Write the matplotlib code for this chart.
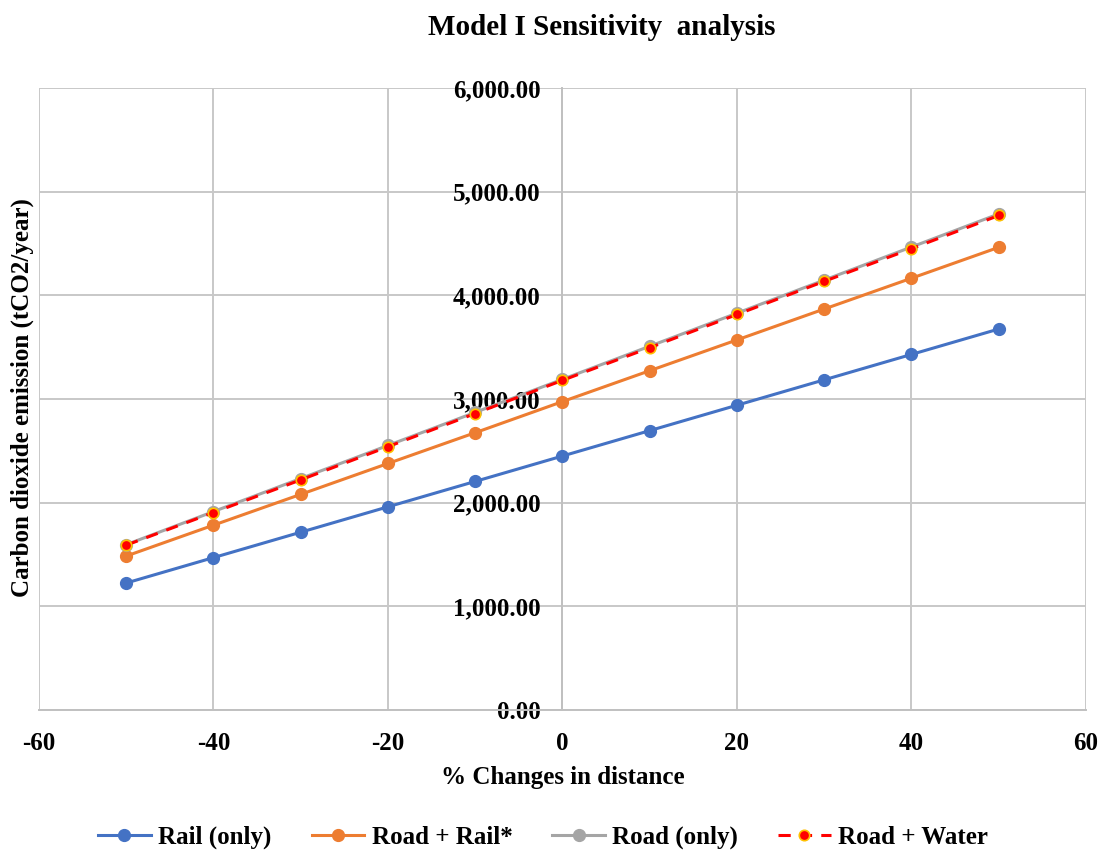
import matplotlib.pyplot as plt
from matplotlib.ticker import FuncFormatter

plt.rcParams['font.family'] = ['Liberation Serif', 'DejaVu Serif']
plt.rcParams['font.weight'] = 'bold'
plt.rcParams['axes.unicode_minus'] = False

# % change in distance
changes = [-50, -40, -30, -20, -10, 0, 10, 20, 30, 40, 50]

# carbon dioxide emission (tCO2/year)
rail_only = [1225, 1470, 1715, 1960, 2205, 2450, 2695, 2940, 3185, 3430, 3675]
road_rail = [1485, 1783, 2080, 2378, 2675, 2975, 3273, 3570, 3868, 4165, 4463]
road_only = [1595, 1914, 2233, 2552, 2871, 3190, 3509, 3828, 4147, 4466, 4785]
road_water = [1590, 1905, 2220, 2540, 2860, 3180, 3495, 3815, 4135, 4450, 4770]

fig = plt.figure(figsize=(11.04, 8.5), dpi=100)
ax = fig.add_axes([0.0353, 0.1647, 0.9484, 0.7318])

ax.plot(changes, rail_only, color='#4472C4', lw=2.2, marker='o', ms=8.5, label='Rail (only)', zorder=3)
ax.plot(changes, road_rail, color='#ED7D31', lw=2.2, marker='o', ms=8.5, label='Road + Rail*', zorder=3)
ax.plot(changes, road_only, color='#A5A5A5', lw=2.2, marker='o', ms=8.5, label='Road (only)', zorder=3)
ax.plot(changes, road_water, color='#FF0000', lw=2.2, ls=(0, (4, 3)), marker='o', ms=7.5,
        mfc='#FF0000', mec='#FFC000', mew=1.2, label='Road + Water', zorder=4)

ax.set_xlim(-60, 60)
ax.set_ylim(0, 6000)
ax.set_xticks(range(-60, 61, 20))
ax.set_yticks(range(0, 6001, 1000))
ax.yaxis.set_major_formatter(FuncFormatter(lambda v, p: f'{v:,.2f}'))

ax.grid(True, color='#C8C8C8', lw=1.4)
ax.set_axisbelow(True)
for s in ['top', 'right']:
    ax.spines[s].set_visible(False)
ax.spines['left'].set_position(('data', 0))
ax.spines['left'].set_color('#C0C0C0')
ax.spines['left'].set_linewidth(1.4)
ax.spines['bottom'].set_color('#C0C0C0')
ax.spines['bottom'].set_linewidth(1.4)
ax.tick_params(axis='both', length=0, labelsize=18)
ax.tick_params(axis='y', pad=16)
ax.tick_params(axis='x', pad=16)

fig.text(0.545, 0.968, 'Model I Sensitivity  analysis', fontsize=21, fontweight='bold',
         ha='center', va='center')
ax.set_xlabel('% Changes in distance', fontsize=18, fontweight='bold', labelpad=8)
fig.text(0.02, 0.532, 'Carbon dioxide emission (tCO2/year)', rotation=90, fontsize=18,
         fontweight='bold', ha='center', va='center')

fig.legend(loc='center', bbox_to_anchor=(0.492, 0.015), ncol=4, frameon=False,
           fontsize=18, handlelength=2.1, columnspacing=1.6, handletextpad=0.3)

fig.savefig('out.png', dpi=100)
